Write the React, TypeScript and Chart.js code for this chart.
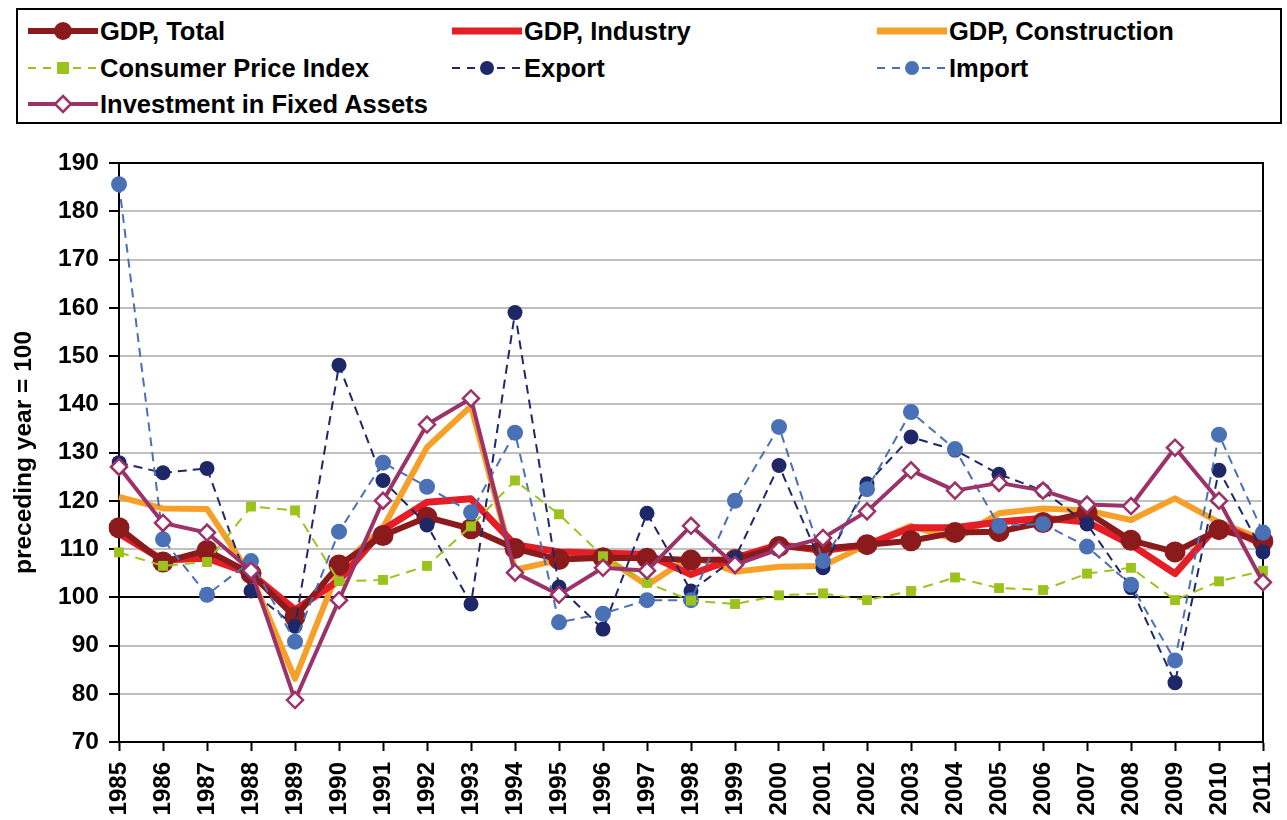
import React, { useEffect, useRef } from "react";
import { Chart, registerables } from "chart.js";

Chart.register(...registerables);

const years = [
  "1985", "1986", "1987", "1988", "1989", "1990", "1991", "1992", "1993",
  "1994", "1995", "1996", "1997", "1998", "1999", "2000", "2001", "2002",
  "2003", "2004", "2005", "2006", "2007", "2008", "2009", "2010", "2011",
];

const gdpTotal = [
  114.4, 107.3, 109.7, 104.9, 95.9, 106.7, 112.8, 116.6, 114.2, 110.1, 107.8,
  108.2, 108.1, 107.7, 107.8, 110.5, 110.1, 110.9, 111.7, 113.4, 113.6, 115.5,
  117.6, 111.8, 109.4, 114.0, 111.6,
];

const gdpIndustry = [
  113.2, 107.7, 108.1, 104.9, 97.4, 103.5, 114.0, 119.7, 120.4, 110.9, 109.4,
  109.1, 108.9, 104.7, 108.1, 110.9, 109.7, 110.9, 114.4, 114.4, 115.6, 116.4,
  115.6, 110.9, 104.9, 115.2, 110.9,
];

const gdpConstruction = [
  120.8, 118.4, 118.3, 104.5, 83.1, 106.0, 114.4, 131.1, 139.6, 105.7, 107.7,
  108.5, 102.5, 108.5, 105.3, 106.3, 106.5, 110.9, 114.8, 112.0, 117.4, 118.4,
  118.0, 116.0, 120.5, 115.5, 112.0,
];

const cpi = [
  109.3, 106.5, 107.3, 118.8, 118.0, 103.3, 103.6, 106.5, 114.7, 124.2, 117.2,
  108.5, 103.0, 99.3, 98.6, 100.4, 100.8, 99.4, 101.3, 104.1, 101.9, 101.5,
  104.9, 106.1, 99.4, 103.3, 105.5,
];

const exportIdx = [
  127.9, 125.8, 126.7, 101.3, 94.0, 148.1, 124.2, 115.0, 98.6, 159.0, 102.1,
  93.4, 117.4, 101.3, 108.1, 127.3, 106.1, 123.5, 133.2, 130.5, 125.5, 122.1,
  115.2, 102.0, 82.3, 126.3, 109.4,
];

const importIdx = [
  185.6, 112.0, 100.5, 107.5, 90.8, 113.6, 127.9, 122.9, 117.6, 134.1, 94.8,
  96.6, 99.4, 99.4, 120.0, 135.3, 107.5, 122.4, 138.4, 130.7, 114.8, 115.2,
  110.5, 102.6, 86.9, 133.7, 113.4,
];

const investment = [
  127.0, 115.4, 113.4, 105.5, 78.7, 99.4, 120.0, 135.8, 141.2, 105.1, 100.5,
  106.1, 105.5, 114.8, 106.7, 109.9, 112.3, 117.8, 126.3, 122.1, 123.7, 122.1,
  119.2, 118.9, 131.0, 120.0, 103.1,
];

const yTitle = "preceding year = 100";
const FONT = "'Liberation Sans', Arial, Helvetica, sans-serif";

const C_TOTAL = "#8B1A1C";
const C_IND = "#E41E26";
const C_CONS = "#F6A02A";
const C_CPI = "#9CC31D";
const C_EXP = "#1E2768";
const C_IMP = "#4A70B5";
const C_INV = "#9B3369";

type LegendItem = {
  label: string;
  color: string;
  width: number;
  dash?: string;
  marker?: "circle" | "rect" | "diamond";
  r?: number;
};

const legendItems: LegendItem[] = [
  { label: "GDP, Total", color: C_TOTAL, width: 6, marker: "circle", r: 9 },
  { label: "GDP, Industry", color: C_IND, width: 7 },
  { label: "GDP, Construction", color: C_CONS, width: 7 },
  { label: "Consumer Price Index", color: C_CPI, width: 2, dash: "8 7", marker: "rect", r: 6 },
  { label: "Export", color: C_EXP, width: 2, dash: "8 7", marker: "circle", r: 7 },
  { label: "Import", color: C_IMP, width: 2, dash: "8 7", marker: "circle", r: 7 },
  { label: "Investment in Fixed Assets", color: C_INV, width: 4, marker: "diamond", r: 8 },
];

function Symbol({ it }: { it: LegendItem }) {
  const w = 70;
  const h = 26;
  const cy = h / 2;
  const cx = w / 2;
  let marker: any = null;
  if (it.marker === "circle") {
    marker = <circle cx={cx} cy={cy} r={it.r} fill={it.color} />;
  } else if (it.marker === "rect") {
    marker = (
      <rect x={cx - it.r!} y={cy - it.r!} width={it.r! * 2} height={it.r! * 2} fill={it.color} />
    );
  } else if (it.marker === "diamond") {
    const r = it.r!;
    marker = (
      <polygon
        points={`${cx},${cy - r} ${cx + r},${cy} ${cx},${cy + r} ${cx - r},${cy}`}
        fill="#fff"
        stroke={it.color}
        strokeWidth={2.5}
      />
    );
  }
  return (
    <svg width={w} height={h} style={{ display: "block" }}>
      <line
        x1={0}
        y1={cy}
        x2={w}
        y2={cy}
        stroke={it.color}
        strokeWidth={it.width}
        strokeDasharray={it.dash}
      />
      {marker}
    </svg>
  );
}

export default function App() {
  const ref = useRef<HTMLCanvasElement>(null);

  useEffect(() => {
    const frame = {
      id: "frame",
      beforeDatasetsDraw(chart: any) {
        const { ctx, chartArea } = chart;
        ctx.save();
        ctx.strokeStyle = "#000";
        ctx.lineWidth = 2;
        ctx.beginPath();
        ctx.moveTo(chartArea.left, chartArea.top);
        ctx.lineTo(chartArea.right, chartArea.top);
        ctx.lineTo(chartArea.right, chartArea.bottom);
        ctx.stroke();
        ctx.restore();
      },
    };

    const chart = new Chart(ref.current!, {
      type: "line",
      data: {
        labels: years,
        datasets: [
          {
            label: "GDP, Total",
            data: gdpTotal,
            borderColor: C_TOTAL,
            backgroundColor: C_TOTAL,
            borderWidth: 6,
            pointStyle: "circle",
            pointRadius: 10.5,
            pointBorderWidth: 0,
            pointBackgroundColor: C_TOTAL,
            borderJoinStyle: "round",
            order: 4,
          },
          {
            label: "GDP, Industry",
            data: gdpIndustry,
            borderColor: C_IND,
            backgroundColor: C_IND,
            borderWidth: 7,
            pointRadius: 0,
            borderJoinStyle: "round",
            order: 5,
          },
          {
            label: "GDP, Construction",
            data: gdpConstruction,
            borderColor: C_CONS,
            backgroundColor: C_CONS,
            borderWidth: 6,
            pointRadius: 0,
            borderJoinStyle: "round",
            order: 6,
          },
          {
            label: "Consumer Price Index",
            data: cpi,
            borderColor: C_CPI,
            backgroundColor: C_CPI,
            borderWidth: 2,
            borderDash: [10, 7],
            pointStyle: "rect",
            pointRadius: 7,
            pointBorderWidth: 0,
            pointBackgroundColor: C_CPI,
            order: 1,
          },
          {
            label: "Export",
            data: exportIdx,
            borderColor: C_EXP,
            backgroundColor: C_EXP,
            borderWidth: 2,
            borderDash: [9, 6],
            pointStyle: "circle",
            pointRadius: 7.5,
            pointBorderWidth: 0,
            pointBackgroundColor: C_EXP,
            order: 3,
          },
          {
            label: "Import",
            data: importIdx,
            borderColor: C_IMP,
            backgroundColor: C_IMP,
            borderWidth: 2,
            borderDash: [9, 6],
            pointStyle: "circle",
            pointRadius: 8,
            pointBorderWidth: 0,
            pointBackgroundColor: C_IMP,
            order: 2,
          },
          {
            label: "Investment in Fixed Assets",
            data: investment,
            borderColor: C_INV,
            backgroundColor: "#fff",
            borderWidth: 4,
            pointStyle: "rectRot",
            pointRadius: 8,
            pointBorderWidth: 2.5,
            pointBackgroundColor: "#fff",
            pointBorderColor: C_INV,
            borderJoinStyle: "round",
            order: 0,
          },
        ],
      },
      options: {
        responsive: false,
        animation: false,
        events: [],
        layout: { padding: { top: 163, right: 24, left: 0, bottom: 0 } },
        plugins: {
          legend: { display: false },
          tooltip: { enabled: false },
        },
        scales: {
          x: {
            offset: false,
            grid: {
              drawOnChartArea: false,
              drawTicks: true,
              tickLength: 9,
              tickColor: "#000",
              tickWidth: 2,
              color: "#000",
            },
            border: { color: "#000", width: 2 },
            ticks: {
              autoSkip: false,
              minRotation: 90,
              maxRotation: 90,
              padding: 11,
              color: "#000",
              font: { family: FONT, size: 24, weight: "bold" },
            },
            afterFit: (s: any) => {
              s.height = 78;
              s.paddingLeft = 0;
              s.paddingRight = 0;
            },
          },
          y: {
            min: 70,
            max: 190,
            ticks: {
              stepSize: 10,
              padding: 10,
              color: "#000",
              font: { family: FONT, size: 24.5, weight: "bold" },
            },
            grid: {
              color: (c: any) =>
                c.tick && c.tick.value === 100 ? "#000" : "#c0c0c0",
              lineWidth: 2,
              tickColor: "#000",
              tickLength: 10,
              tickWidth: 2,
            },
            border: { color: "#000", width: 2 },
            title: {
              display: true,
              text: yTitle,
              color: "#000",
              padding: { top: 10, bottom: 0 },
              font: { family: FONT, size: 24.5, weight: "bold" },
            },
            afterFit: (s: any) => {
              s.width = 119;
              s.paddingTop = 0;
              s.paddingBottom = 0;
            },
          },
        },
      },
      plugins: [frame],
    } as any);

    return () => chart.destroy();
  }, []);

  const colX = [12, 436, 861];
  const rowY = [23, 60, 96];

  return (
    <div
      style={{
        position: "fixed",
        left: 0,
        top: 0,
        width: 1287,
        height: 820,
        background: "#fff",
        overflow: "hidden",
      }}
    >
      <canvas
        ref={ref}
        width={1287}
        height={820}
        style={{ position: "absolute", left: 0, top: 0, width: 1287, height: 820 }}
      />
      <div
        style={{
          position: "absolute",
          left: 16,
          top: 8,
          width: 1266,
          height: 116,
          border: "2px solid #000",
          boxSizing: "border-box",
          background: "#fff",
        }}
      >
        {legendItems.map((it, i) => {
          const col = i % 3;
          const row = Math.floor(i / 3);
          return (
            <div
              key={it.label}
              style={{
                position: "absolute",
                left: colX[col] - 2,
                top: rowY[row] - 2 - 15,
                height: 30,
                display: "flex",
                alignItems: "center",
                whiteSpace: "nowrap",
              }}
            >
              <Symbol it={it} />
              <span
                style={{
                  marginLeft: 2,
                  fontFamily: FONT,
                  fontWeight: "bold",
                  fontSize: 25.5,
                  color: "#000",
                  lineHeight: "30px",
                }}
              >
                {it.label}
              </span>
            </div>
          );
        })}
      </div>
    </div>
  );
}
